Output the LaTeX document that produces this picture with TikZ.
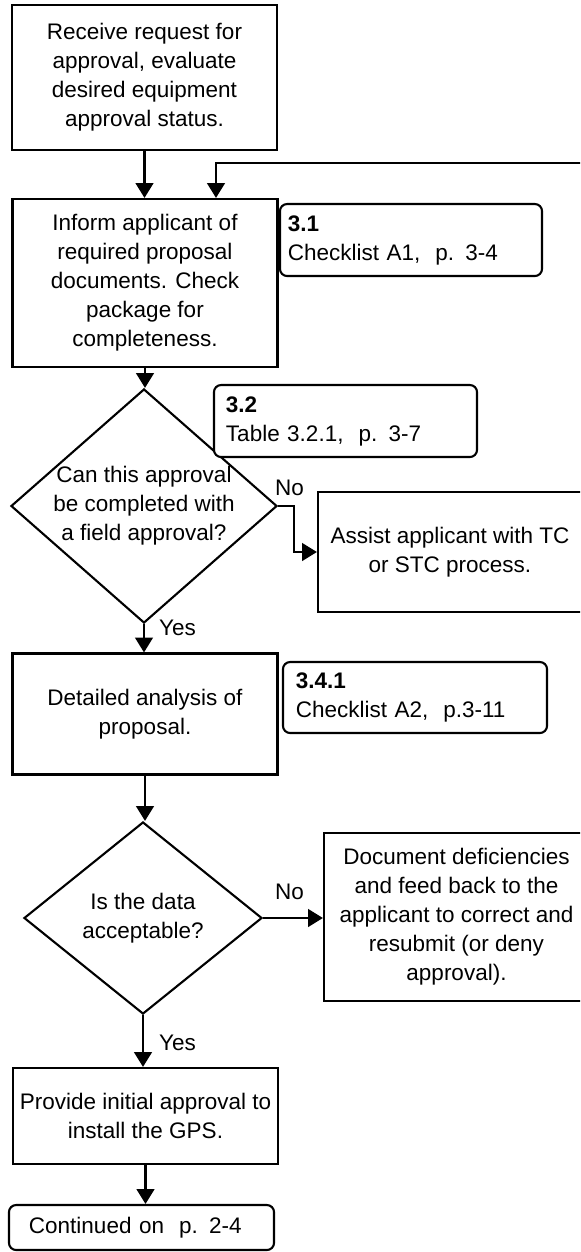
\documentclass[tikz,border=0pt]{standalone}
\usepackage{fontspec}
\setmainfont{Liberation Sans}
\usetikzlibrary{shapes.geometric,arrows.meta}

\begin{document}
\begin{tikzpicture}[x=0.025cm,y=-0.025cm,
  every node/.style={font=\fontsize{16}{20.6}\selectfont},
  box/.style={draw,line width=1.5pt,fill=white,align=center,inner sep=0pt,minimum width=6.625cm},
  note/.style={draw,line width=1.5pt,fill=white,rounded corners=0.18cm,align=left,inner xsep=0.3cm,minimum height=1.8cm},
  decision/.style={draw,diamond,line width=1.5pt,inner sep=0pt},
  arr/.style={line width=1.6pt,-{Triangle[width=12.5pt,length=10.5pt]}}]
\useasboundingbox (0,0) rectangle (580,1252);
\clip (0,0) rectangle (580,1252);

\node[box,minimum height=3.625cm] (recv) at (144.5,77.5) {Receive request for\\approval, evaluate\\desired equipment\\approval status.};
\node[box,minimum height=4.2cm] (inform) at (145,283) {Inform applicant of\\required proposal\\documents. Check\\package for\\completeness.};
\node[note,text width=6.15cm,inner xsep=0.2cm] (n31) at (411,240) {\textbf{3.1}\\Checklist A1,~~p. 3-4};

\node[decision,minimum width=6.65cm,minimum height=5.85cm,
  label={[align=center]center:Can this approval\\be completed with\\a field approval?}] (q1) at (144,506) {};
\node[note,text width=5.975cm] (n32) at (345.5,421) {\textbf{3.2}\\Table 3.2.1,~~p. 3-7};
\node[box,minimum width=6.6cm,minimum height=3cm] (assist) at (450,552) {Assist applicant with TC\\or STC process.};
\node (no1) at (289.5,488) {No};
\node (yes1) at (177.5,628) {Yes};

\node[box,minimum height=3.025cm] (detail) at (145,714) {Detailed analysis of\\proposal.};
\node[note,text width=5.96cm,inner xsep=0.32cm,minimum height=1.775cm] (n341) at (415,697.5) {\textbf{3.4.1}\\Checklist A2,~~p.3-11};

\node[decision,minimum width=5.95cm,minimum height=4.8cm,
  label={[align=center]center:Is the data\\acceptable?}] (q2) at (143,918) {};
\node[box,minimum height=4.2cm] (doc) at (456.5,917) {Document deficiencies\\and feed back to the\\applicant to correct and\\resubmit (or deny\\approval).};
\node (no2) at (289.5,892) {No};
\node (yes2) at (177.5,1043) {Yes};

\node[box,minimum height=2.4cm] (provide) at (145.5,1116) {Provide initial approval to\\install the GPS.};
\node[note,text width=5.625cm,inner xsep=0.5cm,minimum height=1.125cm] (cont) at (141.5,1227.5) {Continued on~~p. 2-4};

\foreach \a/\b in {recv/inform,inform/q1,q1/detail,detail/q2,q2/provide,provide/cont}
  \draw[arr] (\a.south) -- (\a.south |- \b.north);

\coordinate (fbin) at (600,163);
\coordinate (fbx) at (216,163);
\draw[arr] (fbin) -- (fbx) -- (fbx |- inform.north);
\draw[arr] (q1.east) -- ++(16,0) |- (assist.west);
\draw[arr] (q2.east) -- (q2.east -| doc.west);
\end{tikzpicture}
\end{document}
